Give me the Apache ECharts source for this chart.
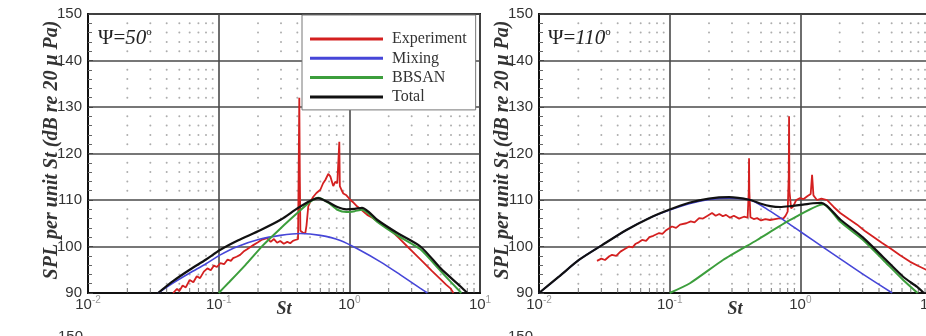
<!DOCTYPE html>
<html><head><meta charset="utf-8">
<script src="https://cdn.jsdelivr.net/npm/echarts@6/dist/echarts.min.js"></script>
<style>html,body{margin:0;padding:0;background:#fff}#c{width:926px;height:336px}</style>
</head><body><div id="c"></div>
<script>
// ---------- ticks ----------
const yTicks = [90, 100, 110, 120, 130, 140, 150];
const minorX = [0.02,0.03,0.04,0.05,0.06,0.07,0.08,0.09, 0.2,0.3,0.4,0.5,0.6,0.7,0.8,0.9, 2,3,4,5,6,7,8,9];
const minorY = [92,94,96,98, 102,104,106,108, 112,114,116,118, 122,124,126,128, 132,134,136,138, 142,144,146,148];
const legendNames = ['Experiment', 'Mixing', 'BBSAN', 'Total'];
const panelTitles = ['50', '110'];

// ---------- psi = 50 deg ----------
const exp50St = [0.0448,0.048,0.05,0.053,0.056,0.06,0.064,0.068,0.072,0.077,0.082,0.087,0.092,0.097,0.103,0.11,0.117,0.124,0.129,0.137,0.146,0.155,0.165,0.175,0.184,0.2,0.215,0.235,0.25,0.265,0.28,0.296,0.315,0.335,0.353,0.37,0.385,0.405,0.41,0.414,0.418,0.422,0.44,0.46,0.47,0.485,0.5,0.53,0.56,0.6,0.63,0.655,0.69,0.715,0.735,0.753,0.78,0.809,0.83,0.838,0.846,0.87,0.899,0.95,1.02,1.08,1.15,1.25,1.37,1.5,1.64,1.85,2.06,2.4,2.78,3.2,3.69,4.3,4.98,5.5,5.94,6.27];
const exp50 = [90,90.9,90.4,91.6,91.2,92.8,92.3,93.6,93.2,94.6,95.3,94.9,95.9,95.6,96.4,96.2,97.2,96.9,97.5,97.8,98.2,98.9,99.4,99.9,100.3,100.9,101.5,101.8,101.0,101.6,100.8,101.2,100.6,101.0,100.7,101.2,101.4,101.6,118,132,115,103.4,103.0,102.8,104.5,108.6,109.5,110.7,111.5,112.2,113.6,114.3,115.6,115.1,114.0,113.0,113.9,113.6,114,122.5,113,112.2,111.4,111.0,110.0,109.4,108.6,107.8,106.8,106.2,105.4,104.4,103.6,101.8,100.0,98.3,96.6,94.7,93.0,91.8,91.0,90];
const mix50St = [0.0344,0.045,0.06,0.08,0.103,0.14,0.208,0.296,0.422,0.6,0.853,1.21,1.73,2.46,3.5,3.96];
const mix50 = [90,92.2,94.3,96.3,98.2,100.0,101.6,102.4,102.8,102.4,101.3,99.2,96.7,93.9,91.0,90];
const bb50St = [0.1,0.12,0.16,0.219,0.3,0.4,0.5,0.58,0.7,0.81,0.95,1.1,1.25,1.4,1.64,2.33,3.5,5.0,7.2];
const bb50 = [90,92.3,96.0,100.3,104.0,107.2,109.6,110.5,109.3,107.9,107.4,107.6,107.9,107.1,105.3,102.4,99.4,94.7,90];
const tot50St = [0.0344,0.045,0.06,0.08,0.103,0.14,0.208,0.3,0.4,0.5,0.578,0.68,0.81,0.95,1.1,1.25,1.4,1.64,2.33,3.5,5.0,7.1,8.0];
const tot50 = [90,92.6,95,97.2,99.3,101.3,103.5,105.8,108.2,109.8,110.4,109.6,108.5,108.0,108.1,108.3,107.5,105.7,102.9,100.0,95.3,91.4,90];

// ---------- psi = 110 deg ----------
const exp110St = [0.0278,0.030,0.032,0.0345,0.0362,0.039,0.042,0.045,0.0489,0.052,0.055,0.058,0.0615,0.066,0.07,0.075,0.083,0.088,0.094,0.104,0.112,0.12,0.134,0.145,0.155,0.168,0.18,0.195,0.211,0.225,0.24,0.255,0.27,0.29,0.31,0.34,0.37,0.395,0.403,0.405,0.407,0.415,0.44,0.467,0.5,0.54,0.587,0.64,0.7,0.74,0.77,0.8,0.815,0.82,0.825,0.85,0.881,0.93,0.996,1.06,1.13,1.2,1.23,1.26,1.3,1.34,1.45,1.6,1.8,2.02,2.35,2.72,3.1,3.61,4.2,4.87,5.8,6.93,8.0,9.19,10];
const exp110 = [96.9,97.4,97.1,97.9,98.2,98.0,98.9,99.4,100.0,99.8,100.6,100.9,101.4,101.2,102.0,102.3,102.9,102.7,103.5,104.3,104.0,104.7,105.0,105.4,105.2,106.1,106.0,106.6,107.2,106.6,107.0,106.5,106.8,106.2,106.6,106.0,106.4,106.2,112,119.0,112,106.3,105.9,106.1,105.6,105.9,105.7,105.9,106.1,106.0,106.6,107.5,115,128.0,112,108.2,108.6,110.0,110.4,110.2,110.8,111.3,115.4,111.0,110.5,110.0,110.3,110.0,108.5,107.2,105.9,104.7,103.4,102.1,100.8,99.6,98.1,96.7,95.8,95.0,94.5];
const mix110St = [0.01,0.0142,0.0202,0.0304,0.0463,0.0695,0.0989,0.141,0.2,0.285,0.413,0.588,0.79,1.05,1.5,2.13,3.03,5.05];
const mix110 = [90,93.5,97.1,100.3,103.5,106.1,107.8,109.2,110.1,110.4,110.0,107.6,105.2,102.8,99.8,96.9,94.0,90];
const bb110St = [0.1,0.143,0.256,0.467,0.836,1.5,2.02,3.02,4.31,6.12,7.9];
const bb110 = [90,92.1,97.1,101.4,105.7,109.1,105.3,101.4,97.1,92.8,90];
const tot110St = [0.01,0.0142,0.0202,0.0304,0.0463,0.0695,0.0989,0.141,0.2,0.285,0.413,0.5,0.588,0.7,0.85,1.05,1.25,1.45,2.02,3.02,4.31,6.12,7.84,8.8];
const tot110 = [90,93.5,97.1,100.3,103.5,106.1,107.9,109.4,110.3,110.6,110.0,109.2,108.7,108.5,108.7,109.0,109.3,109.4,105.8,101.9,97.7,93.5,91.3,90];

const zip = (xs, ys) => xs.map((x, i) => [x, ys[i]]);

const C = { exp: '#d42020', mix: '#4646d8', bb: '#3c9e3c', tot: '#111111' };
const FONT = 'Liberation Sans';
const SERIF = 'Liberation Serif';

const grids = [
  { left: 88, top: 14, width: 392, height: 279 },
  { left: 539, top: 14, width: 392, height: 279 }
].map(g => Object.assign(g, { show: true, borderColor: '#222', borderWidth: 2, backgroundColor: '#fff',
                             containLabel: false, outerBoundsMode: 'none' }));

function xAxisFor(i) {
  return {
    type: 'log', logBase: 10, gridIndex: i, min: 0.01, max: 10,
    axisLine: { show: true, lineStyle: { color: '#111', width: 2 } },
    axisTick: { show: false },
    splitLine: { show: true, lineStyle: { color: '#4a4a4a', width: 1.6 } },
    axisLabel: {
      margin: 2, showMinLabel: true, showMaxLabel: true, hideOverlap: false,
      formatter: v => '{b|10}{s|' + Math.round(Math.log10(v)) + '}',
      rich: {
        b: { fontSize: 15, color: '#333', fontFamily: FONT, lineHeight: 19 },
        s: { fontSize: 10, color: '#999', fontFamily: FONT, verticalAlign: 'top' }
      }
    }
  };
}
function yAxisFor(i) {
  return {
    type: 'value', gridIndex: i, min: 90, max: 150, interval: 10,
    axisLine: { show: true, lineStyle: { color: '#111', width: 2 } },
    axisTick: { show: true, inside: true, length: 5, lineStyle: { color: '#444' } },
    minorTick: { show: true, splitNumber: 5, length: 4, lineStyle: { color: '#666' } },
    splitLine: { show: true, lineStyle: { color: '#4a4a4a', width: 1.6 } },
    axisLabel: { margin: 6, fontSize: 15, color: '#333', fontFamily: FONT,
                 showMinLabel: true, showMaxLabel: true, hideOverlap: false }
  };
}

const dots = minorX.flatMap(x => minorY.map(y => [x, y]));
const xTickMarks = minorX.map(x => [x, 90]);

function panelSeries(i, e, m, b, t) {
  return [
    { type: 'scatter', xAxisIndex: i, yAxisIndex: i, data: dots, symbol: 'circle', symbolSize: 2,
      itemStyle: { color: '#999' }, silent: true, z: 1 },
    { type: 'scatter', xAxisIndex: i, yAxisIndex: i, data: xTickMarks, symbol: 'rect', symbolSize: [1, 5],
      symbolOffset: [0, -2.5], itemStyle: { color: '#555' }, silent: true, z: 1 },
    { name: 'Experiment', type: 'line', xAxisIndex: i, yAxisIndex: i, data: e, symbol: 'none',
      lineStyle: { color: C.exp, width: 1.8 }, itemStyle: { color: C.exp }, z: 3 },
    { name: 'Mixing', type: 'line', xAxisIndex: i, yAxisIndex: i, data: m, symbol: 'none', smooth: 0.3,
      lineStyle: { color: C.mix, width: 1.6 }, itemStyle: { color: C.mix }, z: 4 },
    { name: 'BBSAN', type: 'line', xAxisIndex: i, yAxisIndex: i, data: b, symbol: 'none', smooth: 0.2,
      lineStyle: { color: C.bb, width: 2 }, itemStyle: { color: C.bb }, z: 5 },
    { name: 'Total', type: 'line', xAxisIndex: i, yAxisIndex: i, data: t, symbol: 'none', smooth: 0.25,
      lineStyle: { color: C.tot, width: 2.2 }, itemStyle: { color: C.tot }, z: 6 }
  ];
}

const series = [
  ...panelSeries(0, zip(exp50St, exp50), zip(mix50St, mix50), zip(bb50St, bb50), zip(tot50St, tot50)),
  ...panelSeries(1, zip(exp110St, exp110), zip(mix110St, mix110), zip(bb110St, bb110), zip(tot110St, tot110))
];

function yName(cx) {
  return { type: 'text', x: cx, y: 150, rotation: Math.PI / 2, z: 50,
    style: { text: 'SPL per unit St (dB re 20 \u03bc Pa)', fontFamily: SERIF, fontStyle: 'italic', fontWeight: 'bold',
             fontSize: 20, fill: '#333', align: 'center', verticalAlign: 'middle' } };
}
function xName(cx) {
  return { type: 'text', x: cx, y: 309, z: 50,
    style: { text: 'St', fontFamily: SERIF, fontStyle: 'italic', fontWeight: 'bold', fontSize: 18,
             fill: '#333', align: 'center', verticalAlign: 'middle' } };
}
function psi(x, deg) {
  return { type: 'text', x: x, y: 38, z: 50,
    style: { text: '{a|\u03a8=}{b|' + deg + '}{c|o}', verticalAlign: 'middle', align: 'left',
      rich: {
        a: { fontFamily: SERIF, fontSize: 21, fill: '#222', lineHeight: 23 },
        b: { fontFamily: SERIF, fontSize: 21, fontStyle: 'italic', fill: '#222', lineHeight: 23 },
        c: { fontFamily: SERIF, fontSize: 11, fill: '#222', verticalAlign: 'top' }
      } } };
}
function cutLabel(x) {
  return { type: 'text', x: x, y: 329, z: 50,
    style: { text: '150', fontFamily: FONT, fontSize: 15, fill: '#333', align: 'right', verticalAlign: 'top' } };
}

const chart = echarts.init(document.getElementById('c'), null, { renderer: 'canvas' });
chart.setOption({
  animation: false,
  backgroundColor: '#fff',
  grid: grids,
  xAxis: [xAxisFor(0), xAxisFor(1)],
  yAxis: [yAxisFor(0), yAxisFor(1)],
  legend: {
    data: legendNames, orient: 'vertical', left: 302, top: 15,
    icon: 'rect', itemWidth: 73, itemHeight: 3, itemGap: 3.3,
    padding: [16, 9, 5, 8], backgroundColor: '#fff', borderColor: '#777', borderWidth: 1,
    textStyle: { fontFamily: SERIF, fontSize: 16, color: '#333', lineHeight: 16, padding: [0, 0, 0, 4] },
    selectedMode: false, z: 20
  },
  graphic: [yName(52), yName(503), xName(284), xName(735), psi(98, panelTitles[0]), psi(548, panelTitles[1]),
            cutLabel(83), cutLabel(533)],
  series: series
});
</script></body></html>
